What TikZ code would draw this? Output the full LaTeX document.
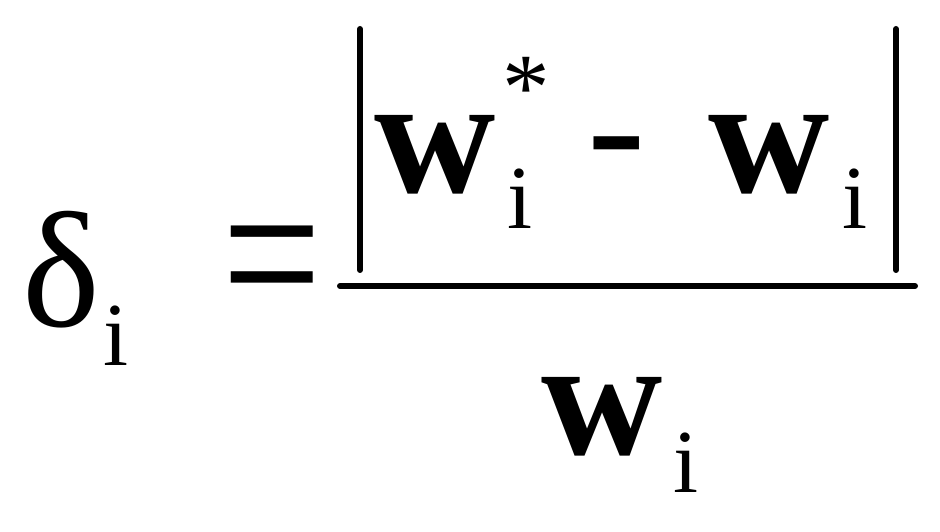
\documentclass[tikz,border=0pt]{standalone}
\usepackage{graphicx}
\usepackage{fontspec}
\setmainfont{Liberation Serif}
\tikzset{
  glyph/.style={inner sep=0pt, outer sep=0pt},
  big/.style={glyph, font=\fontsize{168}{168}\selectfont\bfseries},
  sub/.style={glyph, font=\fontsize{90}{90}\selectfont},
  rulebar/.style={line width=6pt, line cap=round},
}
\begin{document}
\begin{tikzpicture}[x=1pt,y=1pt]
\useasboundingbox (0,0) rectangle (940,532);
% left side
\node[glyph, font=\fontsize{165}{165}\selectfont] (delta) at (61,262) {δ};
\node[sub] (di) at (116.5,196.5) {i};
\node[glyph, font=\fontsize{176}{176}\selectfont] (eq) at (272.5,254) {\scalebox{1}[1.3]{=}};
% numerator
\node[big] (w1) at (435,377) {w};
\node[sub] (i1) at (519.5,333) {i};
\node[glyph, anchor=north, font=\fontsize{95}{95}\selectfont] (ast) at (526,475) {*};
\node[glyph, anchor=north, font=\fontsize{175}{175}\selectfont] (minus) at (616.5,395) {-};
\node[big] (w2) at (769,377) {w};
\node[sub] (i2) at (855,333) {i};
% absolute value bars
\coordinate (lt) at (360,503); \coordinate (lb) at (360,262);
\coordinate (rt) at (896,503); \coordinate (rb) at (896,262);
\draw[rulebar] (lt) -- (lb);
\draw[rulebar] (rt) -- (rb);
% fraction bar
\coordinate (fl) at (340,246); \coordinate (fr) at (915,246);
\draw[rulebar] (fl) -- (fr);
% denominator
\node[big] (w3) at (602,115) {w};
\node[sub] (i3) at (685.5,69.5) {i};
\end{tikzpicture}
\end{document}
